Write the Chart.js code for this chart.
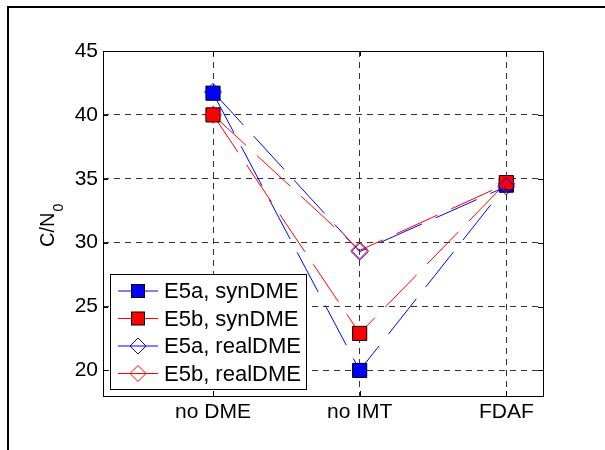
<!DOCTYPE html>
<html>
<head>
<meta charset="utf-8">
<script src="https://cdn.jsdelivr.net/npm/chart.js@4/dist/chart.umd.min.js"></script>
<style>
html,body{margin:0;padding:0;background:#fff;}
canvas{display:block;}
</style>
</head>
<body>
<canvas id="cnChart" width="605" height="450"></canvas>
<script>
// values
const categories = ["no DME","no IMT","FDAF"];
const yTicks = [20,25,30,35,40,45];
const e5aSyn  = [41.7, 20.0, 34.5];
const e5bSyn  = [40.0, 22.9, 34.7];
const e5aReal = [41.8, 29.3, 34.4];
const e5bReal = [40.0, 29.4, 34.6];

const FONT = "Liberation Sans, Arial, sans-serif";

function pts(vals){
    return vals.map((v,i)=>({x:i+1,y:v}));
}

function makeSet(label,vals,color,filled,order){
    return {
        label:label,
        data:pts(vals),
        borderColor:color,
        borderWidth:1,
        borderDash:[45,15],
        pointStyle:filled ? "rect" : "rectRot",
        pointRadius:filled ? 10 : 8.5,
        pointHoverRadius:filled ? 10 : 8.5,
        pointBackgroundColor:filled ? color : "rgba(0,0,0,0)",
        pointBorderColor:filled ? "#000" : color,
        pointBorderWidth:1,
        fill:false,
        tension:0,
        order:order
    };
}

// frame, axes box, inner ticks, y label and legend
const decor = {
    id:"decor",
    afterDraw(chart){
        const ctx = chart.ctx;
        const a = chart.chartArea;
        const xs = chart.scales.x, ys = chart.scales.y;
        ctx.save();
        // outer figure frame
        ctx.strokeStyle = "#000";
        ctx.lineWidth = 2;
        ctx.beginPath();
        ctx.moveTo(8,450);
        ctx.lineTo(8,7);
        ctx.lineTo(605,7);
        ctx.stroke();

        // axes box
        ctx.lineWidth = 1;
        ctx.strokeRect(Math.round(a.left)+0.5,Math.round(a.top)+0.5,Math.round(a.right-a.left),Math.round(a.bottom-a.top));

        // inner tick marks
        ctx.beginPath();
        ys.ticks.forEach(t=>{
            const y = Math.round(ys.getPixelForValue(t.value))+0.5;
            ctx.moveTo(a.left,y); ctx.lineTo(a.left+5,y);
            ctx.moveTo(a.right,y); ctx.lineTo(a.right-5,y);
        });
        xs.ticks.forEach(t=>{
            const x = Math.round(xs.getPixelForValue(t.value))+0.5;
            ctx.moveTo(x,a.bottom); ctx.lineTo(x,a.bottom-5);
            ctx.moveTo(x,a.top); ctx.lineTo(x,a.top+5);
        });
        ctx.stroke();

        // y axis label C/N0
        ctx.fillStyle = "#000";
        ctx.translate(53.5,247);
        ctx.rotate(-Math.PI/2);
        ctx.font = "20px "+FONT;
        ctx.textBaseline = "alphabetic";
        ctx.textAlign = "left";
        ctx.fillText("C/N",0,0);
        const w = ctx.measureText("C/N").width;
        ctx.font = "14px "+FONT;
        ctx.fillText("0",w+1,9.5);
        ctx.restore();

        // legend
        ctx.save();
        const lx = 110.5, ly = 274.5, lw = 196, lh = 115;
        ctx.fillStyle = "#fff";
        ctx.fillRect(lx,ly,lw,lh);
        ctx.strokeStyle = "#000";
        ctx.lineWidth = 1;
        ctx.strokeRect(lx,ly,lw,lh);
        chart.data.datasets.forEach((ds,i)=>{
            const y = 291 + i*27.5;
            ctx.strokeStyle = ds.borderColor;
            ctx.lineWidth = 1;
            ctx.setLineDash([]);
            ctx.beginPath();
            ctx.moveTo(118,y); ctx.lineTo(158,y);
            ctx.stroke();
            if(ds.pointStyle==="rect"){
                ctx.fillStyle = ds.pointBackgroundColor;
                ctx.fillRect(131.5,y-6.5,13,13);
                ctx.strokeStyle = "#000";
                ctx.strokeRect(131.5,y-6.5,13,13);
            }else{
                ctx.strokeStyle = ds.pointBorderColor;
                ctx.beginPath();
                ctx.moveTo(138-8,y); ctx.lineTo(138,y-8);
                ctx.lineTo(138+8,y); ctx.lineTo(138,y+8);
                ctx.closePath();
                ctx.stroke();
            }
            ctx.fillStyle = "#000";
            ctx.font = "22px "+FONT;
            ctx.textBaseline = "middle";
            ctx.textAlign = "left";
            ctx.fillText(ds.label,164,y+1);
        });
        ctx.restore();
    }
};

new Chart(document.getElementById("cnChart").getContext("2d"),{
    type:"line",
    data:{
        datasets:[
            makeSet("E5a, synDME",e5aSyn,"#0000ff",true,4),
            makeSet("E5b, synDME",e5bSyn,"#ff0000",true,3),
            makeSet("E5a, realDME",e5aReal,"#0000ff",false,2),
            makeSet("E5b, realDME",e5bReal,"#ff0000",false,1)
        ]
    },
    options:{
        responsive:false,
        animation:false,
        layout:{padding:{top:51,right:62,left:0,bottom:0}},
        plugins:{legend:{display:false},tooltip:{enabled:false}},
        scales:{
            x:{
                type:"linear",
                min:0.25,
                max:3.25,
                afterBuildTicks(scale){
                    scale.ticks = categories.map((c,i)=>({value:i+1}));
                },
                afterFit(scale){ scale.height = 54; },
                ticks:{
                    callback:v=>categories[v-1],
                    color:"#000",
                    font:{family:FONT,size:21},
                    padding:4,
                    maxRotation:0,
                    autoSkip:false
                },
                grid:{color:"rgba(0,0,0,0.8)",lineWidth:1,drawTicks:false},
                border:{display:false,dash:[6,5]}
            },
            y:{
                min:18,
                max:45,
                afterBuildTicks(scale){
                    scale.ticks = yTicks.map(v=>({value:v}));
                },
                afterFit(scale){ scale.width = 103; },
                ticks:{
                    color:"#000",
                    font:{family:FONT,size:21},
                    padding:5
                },
                grid:{color:"rgba(0,0,0,0.8)",lineWidth:1,drawTicks:false},
                border:{display:false,dash:[6,5]}
            }
        }
    },
    plugins:[decor]
});
</script>
</body>
</html>
